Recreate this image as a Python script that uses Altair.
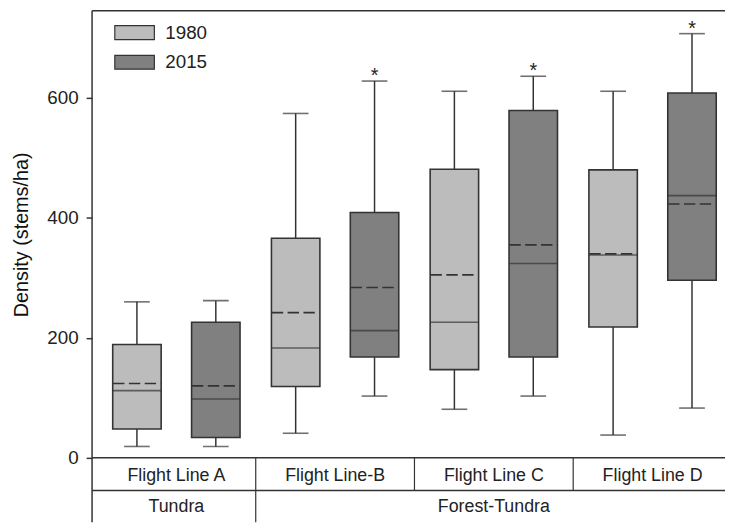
import altair as alt
import pandas as pd

# ---------------- data ----------------
categories = ["Flight Line A", "Flight Line-B", "Flight Line C", "Flight Line D"]
group_names = ["Tundra", "Forest-Tundra"]
group_first = [0, 1]   # index of first category in group
group_last = [0, 3]    # index of last category in group
years = ["1980", "2015"]

low_1980 = [19, 41, 81, 38]
q1_1980 = [48, 119, 147, 218]
median_1980 = [112, 183, 226, 338]
mean_1980 = [124, 242, 305, 340]
q3_1980 = [189, 366, 481, 480]
high_1980 = [260, 574, 611, 611]
star_1980 = [False, False, False, False]

low_2015 = [19, 103, 103, 83]
q1_2015 = [34, 168, 168, 296]
median_2015 = [98, 212, 324, 437]
mean_2015 = [120, 284, 355, 423]
q3_2015 = [226, 409, 579, 608]
high_2015 = [262, 628, 636, 707]
star_2015 = [False, True, True, True]

y_ticks = [0, 200, 400, 600]

# ---------------- tables ----------------
series = {
    "1980": (low_1980, q1_1980, median_1980, mean_1980, q3_1980, high_1980, star_1980),
    "2015": (low_2015, q1_2015, median_2015, mean_2015, q3_2015, high_2015, star_2015),
}
rows = []
for yr in years:
    lo, q1, md, mn, q3, hi, st = series[yr]
    for i, cat in enumerate(categories):
        rows.append(dict(idx=i, category=cat, year=yr, low=lo[i], q1=q1[i],
                         median=md[i], mean=mn[i], q3=q3[i], high=hi[i], star=st[i]))
df = pd.DataFrame(rows)
cat_df = pd.DataFrame({"idx": list(range(len(categories))), "name": categories})
grp_df = pd.DataFrame({"name": group_names, "first": group_first, "last": group_last})
one = pd.DataFrame({"k": [0]})

# ---------------- layout constants ----------------
PLOT_W, PLOT_H = 640, 452
CAT_PX = 163
OFF = 40.5 / CAT_PX
HALF = 24.5 / CAT_PX
LINE = "#333333"
ROW1_TOP, ROW2_TOP, BOTTOM = PLOT_H, 485, 517

xscale = alt.Scale(domain=[0, len(categories)], range=[0, CAT_PX * len(categories)], nice=False, zero=False)
yscale = alt.Scale(domain=[0, 745], nice=False, zero=True)
yaxis = alt.Axis(values=y_ticks, domain=False, grid=False, tickSize=6, tickColor=LINE,
                 tickWidth=1.5, labelFontSize=19, labelPadding=8, labelColor="#222222",
                 title="Density (stems/ha)", titleFontSize=20, titleFontWeight="normal",
                 titleColor="#111111", titleX=-71, titleBaseline="middle")


def X(f):
    return alt.X(f, type="quantitative", scale=xscale, axis=None)


def Y(f):
    return alt.Y(f, type="quantitative", scale=yscale, axis=yaxis)


base = alt.Chart(df).transform_calculate(
    xpos=f"datum.idx + 0.5 + (datum.year == '1980' ? {-OFF} : {OFF})"
).transform_calculate(
    xl=f"datum.xpos - {HALF}", xr=f"datum.xpos + {HALF}"
)

whisker = base.mark_rule(color=LINE, strokeWidth=1.5).encode(x=X("xpos"), y=Y("low"), y2="high")
caps_lo = base.mark_tick(orient="horizontal", size=26, thickness=1.6, color=LINE).encode(x=X("xpos"), y=Y("low"))
caps_hi = base.mark_tick(orient="horizontal", size=26, thickness=1.6, color=LINE).encode(x=X("xpos"), y=Y("high"))
box = base.mark_bar(size=49, stroke=LINE, strokeWidth=1.6).encode(
    x=X("xpos"), y=Y("q1"), y2="q3",
    fill=alt.Fill("year:N", scale=alt.Scale(domain=years, range=["#bcbcbc", "#808080"]),
                  legend=alt.Legend(title=None, orient="none", legendX=32, legendY=11,
                                    symbolType="M-2,-0.7L2,-0.7L2,0.7L-2,0.7Z", symbolSize=400,
                                    symbolStrokeColor=LINE, symbolStrokeWidth=1.2,
                                    labelFontSize=19, labelColor="#222222", labelOffset=20,
                                    rowPadding=9, padding=0, symbolOpacity=1)),
)
median = base.mark_tick(orient="horizontal", size=49, thickness=1.6, color=LINE).encode(x=X("xpos"), y=Y("median"))
mean = base.mark_rule(color=LINE, strokeWidth=1.6, strokeDash=[11.5, 4.5]).encode(x=X("xl"), x2="xr", y=Y("mean"))
stars = base.transform_filter("datum.star").mark_text(text="*", fontSize=20, baseline="alphabetic", dy=1,
                                                       color="#222222").encode(x=X("xpos"), y=Y("high"))

# ---------------- frame and category table ----------------
left_line = alt.Chart(one).mark_rule(color=LINE, strokeWidth=1.5).encode(
    x=alt.value(0), y=alt.value(0), y2=alt.value(BOTTOM))
top_line = alt.Chart(one).mark_rule(color=LINE, strokeWidth=1.5).encode(
    x=alt.value(0), x2=alt.value(PLOT_W), y=alt.value(0))
zero_line = alt.Chart(one).mark_rule(color=LINE, strokeWidth=1.5).encode(
    x=alt.value(0), x2=alt.value(PLOT_W), y=alt.value(ROW1_TOP))
row_line = alt.Chart(one).mark_rule(color=LINE, strokeWidth=1.5).encode(
    x=alt.value(0), x2=alt.value(PLOT_W), y=alt.value(ROW2_TOP))
cat_div = alt.Chart(cat_df).transform_filter("datum.idx > 0").mark_rule(color=LINE, strokeWidth=1.2).encode(
    x=X("idx"), y=alt.value(ROW1_TOP), y2=alt.value(ROW2_TOP))
grp_div = alt.Chart(grp_df).transform_filter("datum.first > 0").mark_rule(color=LINE, strokeWidth=1.2).encode(
    x=X("first"), y=alt.value(ROW2_TOP), y2=alt.value(BOTTOM))
cat_text = alt.Chart(cat_df).transform_calculate(c="datum.idx + 0.5").mark_text(
    fontSize=18, baseline="middle", color="#222222").encode(x=X("c"), y=alt.value(470), text="name:N")
grp_text = alt.Chart(grp_df).transform_calculate(c="(datum.first + datum.last + 1) / 2").mark_text(
    fontSize=18, baseline="middle", color="#222222").encode(x=X("c"), y=alt.value(502), text="name:N")

chart = alt.layer(
    whisker, caps_lo, caps_hi, box, median, mean, stars,
    left_line, top_line, zero_line, row_line, cat_div, grp_div, cat_text, grp_text,
).properties(
    width=PLOT_W, height=PLOT_H,
    padding={"left": 85, "top": 0, "right": 0, "bottom": 65},
    autosize=alt.AutoSizeParams(type="none"),
).configure(font="Liberation Sans").configure_view(stroke=None)

chart.save("out.html", embed_options={"renderer": "svg", "actions": False})
